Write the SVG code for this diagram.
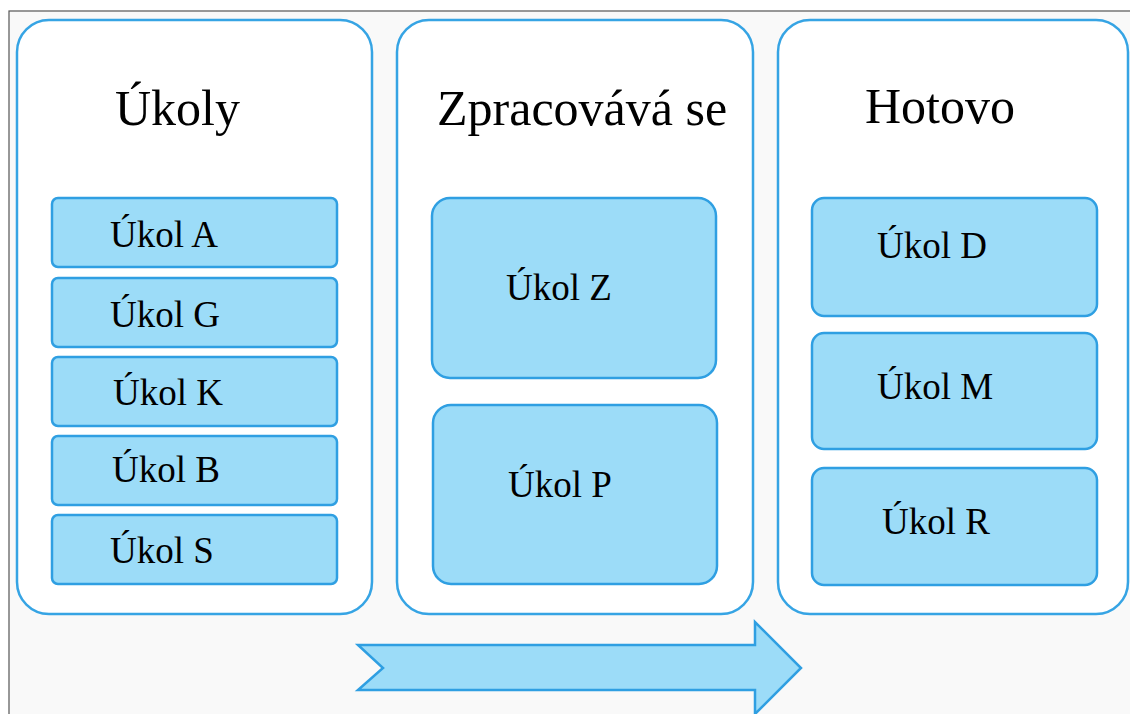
<svg xmlns="http://www.w3.org/2000/svg" width="1130" height="714" viewBox="0 0 1130 714">
<style>
.panel{fill:#ffffff;stroke:#36a4e4;stroke-width:2.5}
.task{fill:#9cdcf8;stroke:#2f9fe2;stroke-width:2.5}
.title{font-family:"Liberation Serif","Times New Roman",serif;font-size:50px;fill:#000}
.lbl{font-family:"Liberation Serif","Times New Roman",serif;font-size:37px;fill:#000}
</style>
<rect x="0" y="0" width="1130" height="714" fill="#ffffff"/>
<rect x="9" y="11" width="1125" height="710" fill="#f9f9f9" stroke="#555555" stroke-width="1.2"/>
<g id="col-ukoly">
<rect class="panel" x="17" y="20" width="355" height="594" rx="32"/>
<text class="title" x="115" y="125">Úkoly</text>
</g>
<g id="col-zpracovava">
<rect class="panel" x="397" y="20" width="356" height="594" rx="32"/>
<text class="title" x="437" y="125">Zpracovává se</text>
</g>
<g id="col-hotovo">
<rect class="panel" x="778" y="20" width="350" height="594" rx="32"/>
<text class="title" x="865" y="123">Hotovo</text>
</g>
<g id="ukol-a"><rect class="task" x="52" y="198" width="285" height="69" rx="6"/><text class="lbl" x="110" y="247">Úkol A</text></g>
<g id="ukol-g"><rect class="task" x="52" y="278" width="285" height="69" rx="6"/><text class="lbl" x="110" y="327">Úkol G</text></g>
<g id="ukol-k"><rect class="task" x="52" y="357" width="285" height="69" rx="6"/><text class="lbl" x="113" y="405">Úkol K</text></g>
<g id="ukol-b"><rect class="task" x="52" y="436" width="285" height="69" rx="6"/><text class="lbl" x="112" y="482">Úkol B</text></g>
<g id="ukol-s"><rect class="task" x="52" y="515" width="285" height="69" rx="6"/><text class="lbl" x="110" y="563">Úkol S</text></g>
<g id="ukol-z"><rect class="task" x="432" y="198" width="284" height="180" rx="18"/><text class="lbl" x="506" y="300">Úkol Z</text></g>
<g id="ukol-p"><rect class="task" x="433" y="405" width="284" height="179" rx="18"/><text class="lbl" x="508" y="497">Úkol P</text></g>
<g id="ukol-d"><rect class="task" x="812" y="198" width="285" height="118" rx="12"/><text class="lbl" x="877" y="258">Úkol D</text></g>
<g id="ukol-m"><rect class="task" x="812" y="333" width="285" height="116" rx="12"/><text class="lbl" x="877" y="399">Úkol M</text></g>
<g id="ukol-r"><rect class="task" x="812" y="468" width="285" height="117" rx="12"/><text class="lbl" x="882" y="534">Úkol R</text></g>
<g id="connectors">
<polygon class="task" points="358,645 755,645 755,622 801,668 755,714 755,690 358,690 383,668"/>
</g>
</svg>
